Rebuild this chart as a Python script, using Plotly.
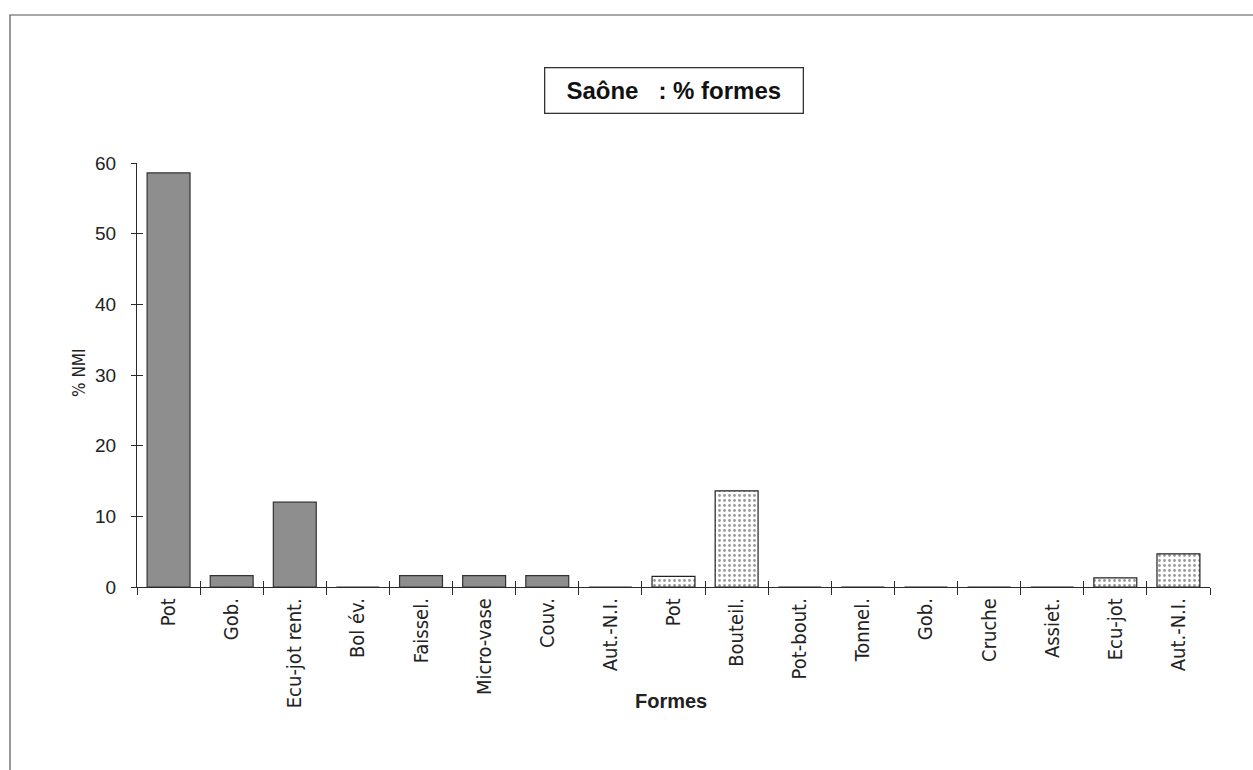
import plotly.graph_objects as go

categories = ["Pot", "Gob.", "Ecu-jot rent.", "Bol év.", "Faissel.", "Micro-vase", "Couv.", "Aut.-N.I.",
              "Pot", "Bouteil.", "Pot-bout.", "Tonnel.", "Gob.", "Cruche", "Assiet.", "Ecu-jot", "Aut.-N.I."]
values_commune = [58.6, 1.6, 12.0, 0, 1.6, 1.6, 1.6, 0]
values_fine = [1.5, 13.6, 0, 0, 0, 0, 0, 1.3, 4.7]
y_ticks = [0, 10, 20, 30, 40, 50, 60]

n = len(categories)
x_commune = list(range(len(values_commune)))
x_fine = list(range(len(values_commune), n))
boundaries = [i - 0.5 for i in range(n + 1)]

W, H = 1253, 770
L, R, T, B = 137, 43, 163, 183
pw, ph = W - L - R, H - T - B

def px(x):
    return (x - L) / pw

def py(y):
    return (H - B - y) / ph

axis_col = "#2a2a2a"
narrow = "Liberation Sans Narrow, DejaVu Sans Condensed, Liberation Sans"
lab_font = dict(family=narrow, size=20, color="#222")

fig = go.Figure()
fig.add_bar(x=x_commune, y=values_commune, width=0.68,
            marker=dict(color="#8e8e8e", line=dict(color="#333", width=1.2)), showlegend=False)
fig.add_bar(x=x_fine, y=values_fine, width=0.68,
            marker=dict(color="white", line=dict(color="#222", width=1.2),
                        pattern=dict(shape=".", fgcolor="#333", bgcolor="white", size=5, solidity=0.25)),
            showlegend=False)
# invisible traces to activate overlay axes
fig.add_scatter(x=[0], y=[0], xaxis="x2", yaxis="y2", mode="markers", marker=dict(opacity=0), showlegend=False, hoverinfo="skip")
fig.add_scatter(x=[0], y=[0], xaxis="x3", yaxis="y", mode="markers", marker=dict(opacity=0), showlegend=False, hoverinfo="skip")

fig.update_layout(
    width=W, height=H,
    margin=dict(l=L, r=R, t=T, b=B),
    paper_bgcolor="white", plot_bgcolor="white",
    barmode="overlay",
    font=dict(family="Liberation Sans, Arial", color="#222"),
    xaxis=dict(range=[-0.5, n - 0.5], tickmode="array", tickvals=list(range(n)), ticktext=categories,
               tickangle=-90, ticks="", showline=True, linecolor=axis_col, linewidth=1.3,
               showgrid=False, zeroline=False, tickfont=lab_font, fixedrange=True, ticklabelstandoff=2),
    xaxis2=dict(range=[-0.5, n - 0.5], overlaying="x", anchor="y2", side="bottom", tickmode="array",
                tickvals=boundaries, ticktext=[""] * len(boundaries), ticks="inside", ticklen=6,
                tickcolor=axis_col, tickwidth=1.3, showgrid=False, zeroline=False, showline=False),
    xaxis3=dict(range=[-0.5, n - 0.5], overlaying="x", anchor="y", side="bottom", tickmode="array",
                tickvals=boundaries, ticktext=[""] * len(boundaries), ticks="outside", ticklen=7,
                tickcolor=axis_col, tickwidth=1.3, showgrid=False, zeroline=False, showline=False),
    yaxis=dict(range=[0, 60], tickmode="array", tickvals=y_ticks, ticks="outside", ticklen=5,
               tickcolor=axis_col, tickwidth=1.3, showline=True, linecolor=axis_col, linewidth=1.3,
               showgrid=False, zeroline=False, tickfont=dict(family="Liberation Sans, Arial", size=19, color="#222"),
               ticklabelstandoff=11),
    yaxis2=dict(range=[0, 60], overlaying="y", anchor="x2", side="left", tickmode="array", tickvals=y_ticks,
                ticktext=[""] * len(y_ticks), ticks="inside", ticklen=6, tickcolor=axis_col, tickwidth=1.3,
                showgrid=False, zeroline=False, showline=False),
)

fig.add_annotation(text="<b>Saône&nbsp;&nbsp;&nbsp;: % formes</b>", xref="paper", yref="paper", x=px(673.5), y=py(90.5),
                   xanchor="center", yanchor="middle", width=245, height=32, align="center",
                   showarrow=False, font=dict(family="Liberation Sans, Arial", size=24, color="#111"),
                   bordercolor="#333", borderwidth=1.3, borderpad=6, bgcolor="white")
fig.add_annotation(text="% NMI", xref="paper", yref="paper", x=px(79), y=py(373), textangle=-90,
                   xanchor="center", yanchor="middle",
                   showarrow=False, font=dict(family=narrow, size=17, color="#222"))
fig.add_annotation(text="<b>Formes</b>", xref="paper", yref="paper", x=px(671), y=py(701),
                   xanchor="center", yanchor="middle",
                   showarrow=False, font=dict(family="Liberation Sans, Arial", size=20, color="#222"))

# outer frame
fig.add_shape(type="rect", xref="paper", yref="paper", x0=px(10), y0=py(800), x1=px(1265), y1=py(15),
              line=dict(color="#555", width=1.2), fillcolor="rgba(0,0,0,0)", layer="below")

fig.write_html("out.html", config={"displayModeBar": False},
               post_script="document.body.style.margin='0px';document.body.style.overflow='hidden';")
